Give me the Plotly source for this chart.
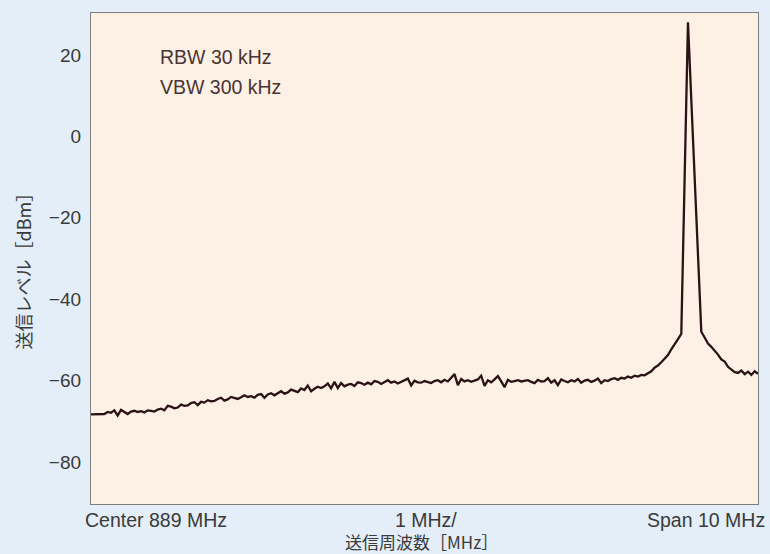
import plotly.graph_objects as go

# Spectrum trace (level in dBm), sampled every 0.05 MHz across the 10 MHz span
level = [
    -68.3, -68.3, -68.3, -68.2, -68.2, -67.7, -67.9, -67.3, -68.6, -67.2, -67.8,
    -68.2, -67.6, -67.4, -67.7, -67.5, -67.8, -67.3, -67.4, -67.6, -67.1,
    -66.9, -67.3, -66.2, -66.4, -66.8, -66.6, -65.9, -66.2, -66.1, -65.5,
    -65.3, -66.0, -65.2, -65.4, -64.8, -65.1, -65.0, -64.5, -64.2, -64.9,
    -64.6, -64.0, -64.3, -64.5, -64.1, -63.6, -64.0, -63.8, -64.2, -63.5,
    -63.3, -64.2, -63.4, -63.1, -63.6, -63.0, -62.6, -63.2, -62.9, -62.2,
    -62.5, -62.8, -61.9, -62.3, -61.2, -62.6, -62.0, -61.5, -61.8, -61.4,
    -60.7, -61.9, -60.3, -61.8, -60.6, -61.4, -61.0, -60.8, -61.3, -60.4,
    -60.6, -61.0, -60.5, -60.9, -60.1, -60.3, -60.8, -60.4, -59.9, -60.5,
    -60.2, -60.7, -60.3, -60.1, -59.5, -61.2, -60.0, -60.4, -60.5, -60.1,
    -60.3, -60.6, -60.1, -59.9, -60.4, -59.8, -60.2, -59.2, -58.4, -61.1,
    -59.6, -60.2, -59.9, -60.3, -60.0, -59.7, -58.8, -61.3, -59.9, -60.4,
    -59.7, -58.9, -60.2, -61.6, -59.8, -60.3, -60.1, -59.9, -60.2, -60.0,
    -59.9, -60.3, -60.6, -59.8, -60.2, -60.1, -59.4, -60.5, -59.9, -61.1,
    -59.7, -60.1, -60.4, -59.9, -60.2, -59.6, -60.5, -60.0, -59.8, -60.3,
    -60.0, -59.5, -60.6, -59.9, -60.1, -59.6, -59.4, -59.8, -59.3, -59.5,
    -59.0, -59.3, -58.8, -59.0, -58.6, -58.7, -58.1, -57.7, -56.8, -56.3,
    -55.5, -54.6, -53.7, -52.3, -51.2, -49.8, -48.5,
    -10.0, 28.0, 9.0, -10.0, -29.0, -48.0,
    -49.4, -50.9, -51.7, -52.6, -53.6, -54.8, -55.3, -56.6, -57.3, -57.9,
    -58.1, -57.5, -58.4, -57.8, -58.6, -57.7, -58.3,
]
step_mhz = 0.05
freq = [round(i * step_mhz, 2) for i in range(len(level))]

y_ticks = [20, 0, -20, -40, -60, -80]
x_labels = ["Center 889 MHz", "1 MHz/", "Span 10 MHz"]
settings_text = ["RBW 30 kHz", "VBW 300 kHz"]

FONT = "Liberation Sans, Arial, Noto Sans CJK JP, sans-serif"
CJK = "Noto Sans CJK JP, sans-serif"
TXT = "#3a3a3a"

fig = go.Figure()
fig.add_trace(go.Scatter(
    x=freq, y=level, mode="lines",
    line=dict(color="#2a1215", width=2.3),
    hoverinfo="skip", showlegend=False,
))

fig.update_layout(
    width=770, height=554,
    margin=dict(l=91, r=12, t=13, b=50),
    paper_bgcolor="#e3eef8",
    plot_bgcolor="#fdf1e5",
    font=dict(family=FONT, size=19, color=TXT),
    showlegend=False,
)
fig.update_xaxes(
    range=[0, 10], showgrid=False, zeroline=False,
    showticklabels=False, ticks="",
    showline=True, mirror=True, linecolor="#7d7d7d", linewidth=1.2,
)
fig.update_yaxes(
    range=[-90.3, 30.3], tickvals=y_ticks, showgrid=False, zeroline=False,
    ticks="", ticklabelstandoff=5,
    tickfont=dict(family=FONT, size=19, color=TXT),
    showline=True, mirror=True, linecolor="#7d7d7d", linewidth=1.2,
)

# x-axis labels placed like the analyzer screen annotations
fig.add_annotation(x=0, y=0, xref="paper", yref="paper", xanchor="left", yanchor="top",
                   xshift=-8, yshift=-3, text=x_labels[0], showarrow=False,
                   font=dict(family=FONT, size=19.5, color=TXT))
fig.add_annotation(x=0.5, y=0, xref="paper", yref="paper", xanchor="center", yanchor="top",
                   xshift=1, yshift=-3, text=x_labels[1], showarrow=False,
                   font=dict(family=FONT, size=19.5, color=TXT))
fig.add_annotation(x=1, y=0, xref="paper", yref="paper", xanchor="right", yanchor="top",
                   xshift=9, yshift=-3, text=x_labels[2], showarrow=False,
                   font=dict(family=FONT, size=19.5, color=TXT))
# axis titles
fig.add_annotation(x=0.5, y=0, xref="paper", yref="paper", xanchor="center", yanchor="top",
                   xshift=-3, yshift=-23, text="送信周波数［MHz］", showarrow=False,
                   font=dict(family=CJK, size=17, color=TXT))
fig.add_annotation(x=0, y=0.5, xref="paper", yref="paper", xanchor="center", yanchor="middle",
                   xshift=-69, yshift=-8, text="送信レベル［dBm］", textangle=-90, showarrow=False,
                   font=dict(family=CJK, size=18, color=TXT))
# measurement settings
for txt, yp in zip(settings_text, [0.9104, 0.849]):
    fig.add_annotation(x=0.1, y=yp, xref="paper", yref="paper", xanchor="left", yanchor="middle",
                       text=txt, showarrow=False,
                       font=dict(family=FONT, size=19.5, color="#4a3434"))

fig.write_html(
    "out.html",
    config={"displayModeBar": False},
    post_script="document.body.style.margin='0';document.body.style.overflow='hidden';",
)
